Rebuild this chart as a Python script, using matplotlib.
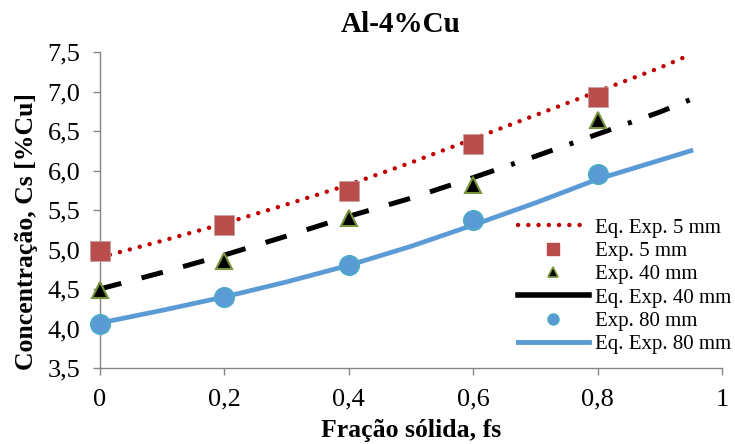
import matplotlib
matplotlib.use("Agg")
import matplotlib.pyplot as plt
from matplotlib.lines import Line2D

plt.rcParams['font.family'] = ['Liberation Serif', 'DejaVu Serif']

# Experimental points
fs_exp = [0, 0.2, 0.4, 0.6, 0.8]
exp_5mm = [4.98, 5.31, 5.74, 6.34, 6.93]
exp_40mm = [4.49, 4.85, 5.40, 5.82, 6.64]
exp_80mm = [4.06, 4.40, 4.80, 5.37, 5.96]

# Fitted curves
fs_eq = [0, 0.1, 0.2, 0.3, 0.4, 0.5, 0.6, 0.7, 0.8, 0.9, 0.95]
eq_5mm = [4.90, 5.11, 5.33, 5.57, 5.82, 6.10, 6.40, 6.70, 7.00, 7.30, 7.47]
eq_40mm = [4.50, 4.71, 4.93, 5.17, 5.42, 5.65, 5.91, 6.18, 6.46, 6.74, 6.90]
eq_80mm = [4.07, 4.23, 4.40, 4.59, 4.80, 5.04, 5.31, 5.59, 5.89, 6.13, 6.25]

xticks = [0, 0.2, 0.4, 0.6, 0.8, 1]
xtick_labels = ["0", "0,2", "0,4", "0,6", "0,8", "1"]
yticks = [3.5, 4.0, 4.5, 5.0, 5.5, 6.0, 6.5, 7.0, 7.5]
ytick_labels = ["3,5", "4,0", "4,5", "5,0", "5,5", "6,0", "6,5", "7,0", "7,5"]

fig = plt.figure(figsize=(7.35, 4.44), dpi=100)
ax = fig.add_axes([100/735, 1-368/444, 622/735, 316/444])

ax.plot(fs_eq, eq_5mm, color='#C00000', lw=3.2, dashes=(0.01, 2.3),
        dash_capstyle='round', zorder=2)
# 40 mm curve: long dashes on the left part, dash-dot on the right (as drawn)
ax.plot(fs_eq[:7], eq_40mm[:7], color='black', lw=3.6, dashes=(4.4, 4.2),
        zorder=2)
ax.plot(fs_eq[6:], eq_40mm[6:], color='black', lw=3.6,
        dashes=(4.4, 3.6, 0.8, 3.6), zorder=2)
ax.plot(fs_eq, eq_80mm, color='#5B9BD5', lw=3.4, zorder=2)

ax.plot(fs_exp, exp_5mm, 's', color='#B84D4B', ms=14, mec='#C0A0A0', mew=0.5,
        zorder=3)
ax.plot(fs_exp, exp_40mm, '^', color='black', ms=12, mec='#77933C', mew=1.5,
        zorder=3)
ax.plot(fs_exp, exp_80mm, 'o', color='#5B9BD5', ms=14, mec='#4BACC6', mew=1.2,
        zorder=3)

ax.set_xlim(0, 1)
ax.set_ylim(3.5, 7.5)
ax.set_xticks(xticks)
ax.set_xticklabels(xtick_labels)
ax.set_yticks(yticks)
ax.set_yticklabels(ytick_labels)
ax.tick_params(labelsize=19, length=5, width=1, color='#868686')
ax.tick_params(axis='y', pad=9)
ax.tick_params(axis='x', pad=10)
for s in ['top', 'right']:
    ax.spines[s].set_visible(False)
for s in ['left', 'bottom']:
    ax.spines[s].set_color('#868686')
    ax.spines[s].set_linewidth(1)
for ln in ax.lines:
    ln.set_clip_on(False)

fig.text(401/735, 1-24/444, "Al-4%Cu", ha='center', va='center',
         fontsize=21, fontweight='bold')
fig.text(411/735, 1-430/444, "Fração sólida, fs", ha='center', va='center',
         fontsize=18.5, fontweight='bold')
fig.text(27/735, 1-232/444, "Concentração, Cs [%Cu]", ha='center',
         va='center', rotation=90, fontsize=18.5, fontweight='bold')

handles = [
    Line2D([], [], color='#C00000', lw=3.2, dashes=(0.01, 2.3),
           dash_capstyle='round'),
    Line2D([], [], ls='none', marker='s', color='#B84D4B', ms=9),
    Line2D([], [], ls='none', marker='^', color='black', mec='#77933C',
           mew=1.2, ms=7),
    Line2D([], [], color='black', lw=4),
    Line2D([], [], ls='none', marker='o', color='#5B9BD5', mec='#4BACC6',
           ms=8),
    Line2D([], [], color='#5B9BD5', lw=3.5),
]
labels = ["Eq. Exp. 5 mm", "Exp. 5 mm", "Exp. 40 mm", "Eq. Exp. 40 mm",
          "Exp. 80 mm", "Eq. Exp. 80 mm"]
fig.legend(handles, labels, loc='upper left',
           bbox_to_anchor=(518/735, 1-218/444), frameon=False,
           fontsize=15, handlelength=3.4, handletextpad=0.3,
           labelspacing=0.18, borderaxespad=0, borderpad=0)

fig.savefig("out.png", dpi=100)
